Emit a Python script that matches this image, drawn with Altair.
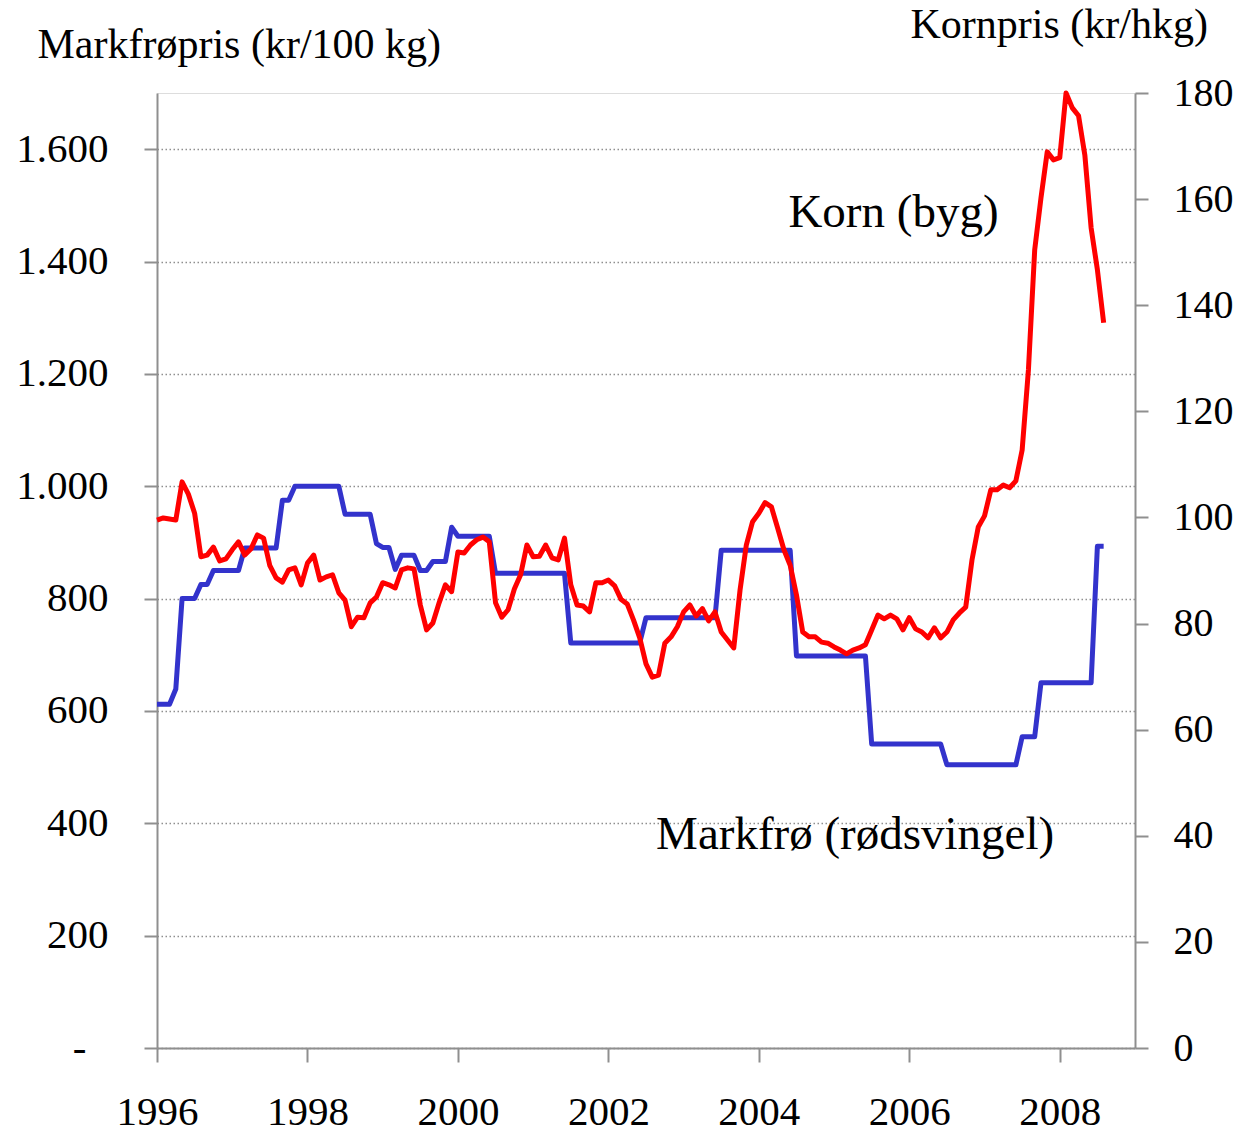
import altair as alt
import pandas as pd

# Monthly observations Jan 1996 .. Aug 2008
months = pd.date_range("1996-01-01", "2008-08-01", freq="MS")

# Markfrø (rødsvingel), kr/100 kg  (left axis)
markfro = [
    612, 612, 612, 639, 800, 800, 800, 825, 825, 850, 850, 850,
    850, 850, 890, 890, 890, 890, 890, 890, 975, 975, 1000, 1000,
    1000, 1000, 1000, 1000, 1000, 1000, 950, 950, 950, 950, 950, 898,
    891, 891, 852, 877, 877, 877, 850, 850, 866, 866, 866, 927,
    911, 911, 911, 911, 911, 911, 845, 845, 845, 845, 845, 845,
    845, 845, 845, 845, 845, 845, 721, 721, 721, 721, 721, 721,
    721, 721, 721, 721, 721, 721, 766, 766, 766, 766, 766, 766,
    766, 766, 766, 766, 766, 766, 886, 886, 886, 886, 886, 886,
    886, 886, 886, 886, 886, 886, 698, 698, 698, 698, 698, 698,
    698, 698, 698, 698, 698, 698, 541, 541, 541, 541, 541, 541,
    541, 541, 541, 541, 541, 541, 504, 504, 504, 504, 504, 504,
    504, 504, 504, 504, 504, 504, 554, 554, 554, 650, 650, 650,
    650, 650, 650, 650, 650, 650, 893, 893,
]

# Korn (byg), kr/hkg  (right axis)
korn = [
    99.5, 99.9, 99.7, 99.5, 106.7, 104.4, 100.8, 92.6, 92.9, 94.4, 91.8, 92.2,
    93.9, 95.4, 92.9, 94.1, 96.7, 96.1, 90.9, 88.6, 87.8, 90.1, 90.5, 87.3,
    91.4, 92.9, 88.2, 88.8, 89.2, 85.8, 84.4, 79.4, 81.2, 81.1, 83.9, 85.0,
    87.7, 87.3, 86.7, 90.1, 90.5, 90.3, 83.5, 78.8, 80.1, 83.9, 87.3, 86.0,
    93.5, 93.3, 94.8, 95.8, 96.3, 95.4, 83.9, 81.2, 82.6, 86.5, 89.2, 94.8,
    92.6, 92.7, 94.8, 92.4, 92.0, 96.1, 87.3, 83.5, 83.3, 82.2, 87.7, 87.7,
    88.2, 87.1, 84.6, 83.7, 80.7, 77.3, 72.4, 69.9, 70.3, 76.3, 77.5, 79.4,
    82.2, 83.5, 81.4, 82.8, 80.5, 82.2, 78.4, 76.9, 75.4, 86.3, 94.8, 99.2,
    100.8, 102.8, 102.0, 98.0, 93.9, 91.0, 85.4, 78.4, 77.5, 77.5, 76.5, 76.3,
    75.6, 75.0, 74.3, 75.0, 75.4, 76.0, 78.8, 81.6, 80.9, 81.6, 80.9, 78.8,
    81.1, 79.0, 78.4, 77.3, 79.2, 77.3, 78.4, 80.7, 82.0, 83.1, 92.0, 98.2,
    100.3, 105.2, 105.2, 106.1, 105.6, 106.9, 112.7, 127.8, 150.4, 160.2, 168.9, 167.4,
    167.8, 180.0, 177.2, 175.7, 168.3, 154.6, 146.7, 136.7,
]

year_ticks = [1996, 1998, 2000, 2002, 2004, 2006, 2008]
left_ticks = [0, 200, 400, 600, 800, 1000, 1200, 1400, 1600]
right_ticks = [0, 20, 40, 60, 80, 100, 120, 140, 160, 180]

left_title = "Markfrøpris (kr/100 kg)"
right_title = "Kornpris (kr/hkg)"
korn_label = "Korn (byg)"
markfro_label = "Markfrø (rødsvingel)"

t = [d.year + (d.month - 1) / 12 for d in months]
df = pd.DataFrame({"t": t, "markfro": markfro, "korn": korn})

FONT = "Liberation Serif"
GRAY = "#8f8f8f"

x_scale = alt.Scale(domain=[1996, 2009], nice=False, zero=False)
x_axis = alt.Axis(
    values=year_ticks, format="d", title=None, grid=False,
    domainColor=GRAY, domainWidth=2, tickColor=GRAY, tickWidth=2, tickSize=14,
    labelPadding=30, labelFont=FONT, labelFontSize=41, labelColor="black",
    labelFlush=False, labelOverlap=False,
)
x_enc = alt.X("t:Q", scale=x_scale, axis=x_axis)

left_scale = alt.Scale(domain=[0, 1700], nice=False, zero=True)
right_scale = alt.Scale(domain=[0, 180], nice=False, zero=True)

left_axis = alt.Axis(
    orient="left", values=left_ticks,
    labelExpr="datum.value == 0 ? '-' : replace(format(datum.value, ','), ',', '.')",
    grid=True, gridColor=GRAY, gridDash=[1.5, 2.5], gridWidth=1.5,
    domainColor=GRAY, domainWidth=2, tickColor=GRAY, tickWidth=2, tickSize=13,
    labelPadding={"condition": {"test": "datum.value == 0", "value": 58}, "value": 36},
    labelFont=FONT, labelFontSize=41, labelColor="black",
    title=left_title, titleAngle=0, titleX=-120, titleY=-36,
    titleAlign="left", titleBaseline="alphabetic",
    titleFont=FONT, titleFontSize=42, titleFontWeight="normal", titleColor="black",
)

right_axis = alt.Axis(
    orient="right", values=right_ticks, format="d", grid=False,
    domainColor=GRAY, domainWidth=2, tickColor=GRAY, tickWidth=2, tickSize=13,
    labelPadding=25, labelFont=FONT, labelFontSize=40, labelColor="black",
    title=right_title, titleAngle=0, titleX=-225, titleY=-56,
    titleAlign="left", titleBaseline="alphabetic",
    titleFont=FONT, titleFontSize=42, titleFontWeight="normal", titleColor="black",
)

blue_line = alt.Chart(df).mark_line(
    color="#3333CC", strokeWidth=5, strokeJoin="round"
).encode(x=x_enc, y=alt.Y("markfro:Q", scale=left_scale, axis=left_axis))

red_line = alt.Chart(df).mark_line(
    color="#FF0000", strokeWidth=5, strokeJoin="round"
).encode(x=x_enc, y=alt.Y("korn:Q", scale=right_scale, axis=right_axis))

blue_text = alt.Chart(
    pd.DataFrame({"t": [2005.28], "markfro": [380], "label": [markfro_label]})
).mark_text(font=FONT, fontSize=47, color="black", align="center", baseline="middle").encode(
    x=x_enc,
    y=alt.Y("markfro:Q", scale=left_scale, axis=None),
    text="label:N",
)

red_text = alt.Chart(
    pd.DataFrame({"t": [2005.79], "korn": [157.4], "label": [korn_label]})
).mark_text(font=FONT, fontSize=47, color="black", align="center", baseline="middle").encode(
    x=x_enc,
    y=alt.Y("korn:Q", scale=right_scale, axis=None),
    text="label:N",
)

chart = alt.layer(
    blue_line, red_line, blue_text, red_text
).resolve_scale(y="independent").properties(
    width=978, height=955,
    autosize=alt.AutoSizeParams(type="none"),
    padding={"left": 149, "top": 85, "right": 99, "bottom": 82},
).configure_view(strokeWidth=0).configure(background="white")

chart.save("out.html", embed_options={"renderer": "svg", "actions": False})
